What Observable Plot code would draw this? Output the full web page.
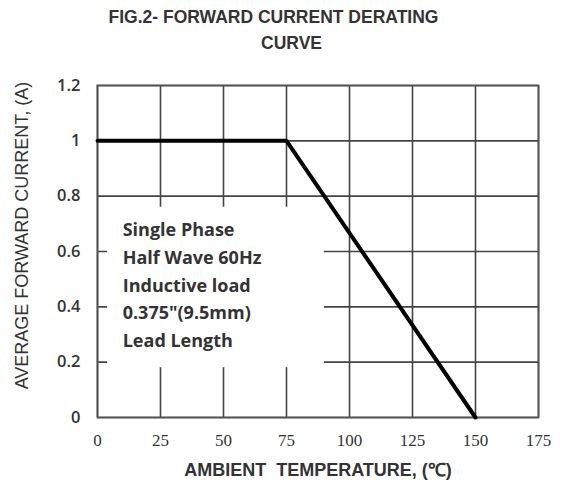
<!DOCTYPE html>
<html><head><meta charset="utf-8">
<script src="https://cdn.jsdelivr.net/npm/d3@7"></script>
<script src="https://cdn.jsdelivr.net/npm/@observablehq/plot@0.6"></script>
<style>body{margin:0;background:#fff}</style>
</head><body><div id="chart"></div>
<script>
const temps = [0, 75, 150];
const current = [1, 1, 0];
const xTicks = [0, 25, 50, 75, 100, 125, 150, 175];
const yTicks = [0, 0.2, 0.4, 0.6, 0.8, 1.0, 1.2];
const yTickLabels = ["0", "0.2", "0.4", "0.6", "0.8", "1", "1.2"];
const titleLines = ["FIG.2- FORWARD CURRENT DERATING", "CURVE"];
const noteLines = ["Single Phase", "Half Wave 60Hz", "Inductive load", "0.375\"(9.5mm)", "Lead Length"];

const curve = temps.map((t, i) => ({t, a: current[i]}));
const gridCol = "#444";
const txt = "#333";

const plot = Plot.plot({
  width: 570, height: 486,
  marginLeft: 97, marginRight: 32, marginTop: 85, marginBottom: 69,
  style: {background: "#fff"},
  x: {domain: [0, 175], ticks: xTicks, label: null},
  y: {domain: [0, 1.2], ticks: yTicks, label: null},
  marks: [
    Plot.gridX(xTicks, {stroke: gridCol, strokeOpacity: 1, strokeWidth: 1.6}),
    Plot.gridY(yTicks, {stroke: gridCol, strokeOpacity: 1, strokeWidth: 1.6}),
    Plot.rect([0], {x1: 4, x2: 90, y1: 0.18, y2: 0.76, fill: "white"}),
    Plot.frame({stroke: "#555", strokeWidth: 1.8}),
    Plot.line(curve, {x: "t", y: "a", stroke: "#000", strokeWidth: 4, strokeLinejoin: "miter"}),
    Plot.text([noteLines.join("\n")], {x: 10, y: 0.726, text: d => d, textAnchor: "start", lineAnchor: "top",
      lineHeight: 1.54, fontSize: 18, fontWeight: "bold", fontFamily: "Open Sans", fill: txt}),
    Plot.axisX(xTicks, {tickSize: 0, tickPadding: 16, fontSize: 17, fontFamily: "Liberation Serif", fill: txt}),
    Plot.axisY(yTicks, {tickSize: 0, tickPadding: 17, fontSize: 16.5, fontWeight: 600, fontFamily: "Open Sans", fill: txt,
      tickFormat: (d, i) => yTickLabels[i]}),
    Plot.text(["AMBIENT  TEMPERATURE, (℃)"], {frameAnchor: "bottom", dx: 0, dy: 58, text: d => d,
      fontSize: 18, fontWeight: "bold", fontFamily: "Liberation Sans", fill: txt}),
    Plot.text(["AVERAGE FORWARD CURRENT, (A)"], {frameAnchor: "left", textAnchor: "middle", dx: -75, dy: -16, rotate: -90, text: d => d,
      fontSize: 18, fontFamily: "Liberation Sans", fill: txt}),
    Plot.text([titleLines[0]], {frameAnchor: "top", dx: -44.5, dy: -75, text: d => d,
      fontSize: 17.5, fontWeight: "bold", fontFamily: "Liberation Sans", fill: txt}),
    Plot.text([titleLines[1]], {frameAnchor: "top", dx: -26.5, dy: -49, text: d => d,
      fontSize: 17.5, fontWeight: "bold", fontFamily: "Liberation Sans", fill: txt})
  ]
});
document.getElementById("chart").appendChild(plot);
</script></body></html>
